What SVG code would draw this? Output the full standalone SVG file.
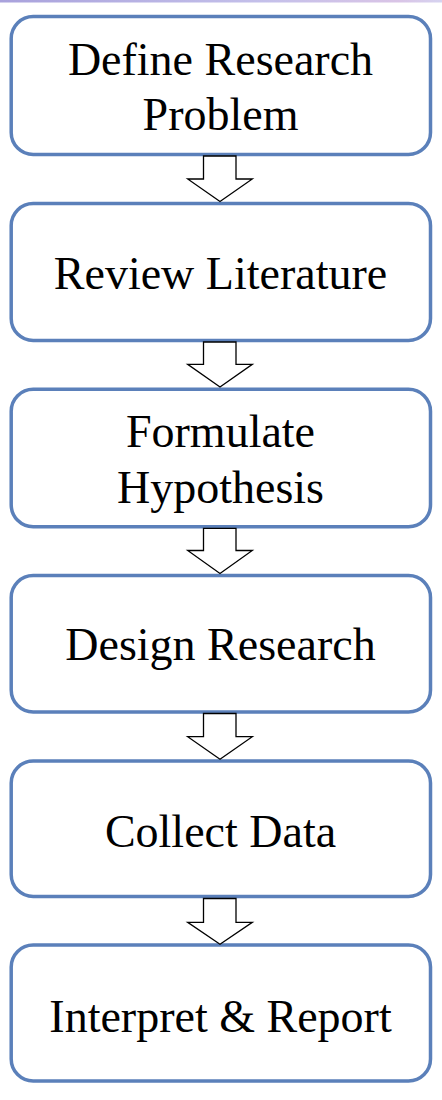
<svg xmlns="http://www.w3.org/2000/svg" width="442" height="1100" viewBox="0 0 442 1100">
  <defs>
    <linearGradient id="topbar" x1="0" y1="0" x2="1" y2="0">
      <stop offset="0" stop-color="#a9a2dc"/>
      <stop offset="0.6" stop-color="#c4c0ea"/>
      <stop offset="0.9" stop-color="#d9c4e6"/>
      <stop offset="1" stop-color="#d6d3f0"/>
    </linearGradient>
    <style>
      .box { fill: #ffffff; stroke: #5b80ba; stroke-width: 3.5; }
      .lbl { font-family: "Liberation Serif", "Times New Roman", serif; font-size: 46px; fill: #000000; text-anchor: middle; }
      .arrow { fill: #ffffff; stroke: #000000; stroke-width: 1.3; stroke-linejoin: miter; }
    </style>
  </defs>
  <rect x="0" y="0" width="442" height="1100" fill="#ffffff"/>
  <rect x="0" y="0" width="442" height="2.5" fill="url(#topbar)"/>

  <g id="node-define">
    <rect class="box" x="11.2" y="16.5" width="419.3" height="138" rx="22" ry="22"/>
    <text class="lbl" x="220.5" y="75">Define Research</text>
    <text class="lbl" x="220.5" y="130">Problem</text>
  </g>
  <g id="node-review">
    <rect class="box" x="11.2" y="203.5" width="419.3" height="137" rx="22" ry="22"/>
    <text class="lbl" x="220.5" y="289">Review Literature</text>
  </g>
  <g id="node-formulate">
    <rect class="box" x="11.2" y="389.3" width="419.3" height="137.5" rx="22" ry="22"/>
    <text class="lbl" x="220.5" y="446.5">Formulate</text>
    <text class="lbl" x="220.5" y="503">Hypothesis</text>
  </g>
  <g id="node-design">
    <rect class="box" x="11.2" y="575.5" width="419.3" height="136.5" rx="22" ry="22"/>
    <text class="lbl" x="220.5" y="660">Design Research</text>
  </g>
  <g id="node-collect">
    <rect class="box" x="11.2" y="761" width="419.3" height="135.5" rx="22" ry="22"/>
    <text class="lbl" x="220.5" y="846.5">Collect Data</text>
  </g>
  <g id="node-interpret">
    <rect class="box" x="11.2" y="945" width="419.3" height="136" rx="22" ry="22"/>
    <text class="lbl" x="220.5" y="1031.5">Interpret &amp; Report</text>
  </g>

  <g id="connectors">
    <path class="arrow" d="M203.5,156 L236,156 L236,179 L252.3,179 L220,201.5 L187.7,179 L203.5,179 Z"/>
    <path class="arrow" d="M203.5,342 L236,342 L236,364.3 L252.3,364.3 L220,387 L187.7,364.3 L203.5,364.3 Z"/>
    <path class="arrow" d="M203.5,528.3 L236,528.3 L236,550.5 L252.3,550.5 L220,573.5 L187.7,550.5 L203.5,550.5 Z"/>
    <path class="arrow" d="M203.5,713.5 L236,713.5 L236,736.7 L252.3,736.7 L220,759.3 L187.7,736.7 L203.5,736.7 Z"/>
    <path class="arrow" d="M203.5,898.5 L236,898.5 L236,922.3 L252.3,922.3 L220,944.3 L187.7,922.3 L203.5,922.3 Z"/>
  </g>
</svg>
